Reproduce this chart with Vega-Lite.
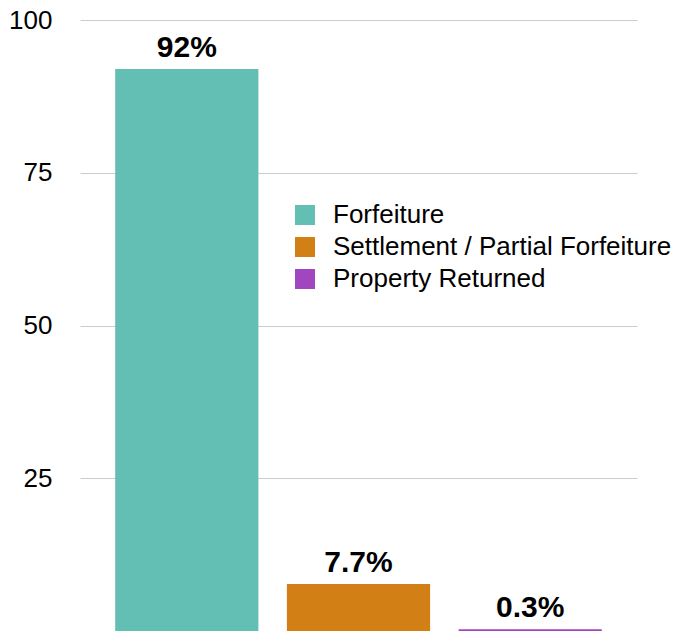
{
  "$schema": "https://vega.github.io/schema/vega-lite/v6.json",
  "autosize": "none",
  "width": 557,
  "height": 611,
  "padding": {"left": 80, "top": 20, "right": 41, "bottom": 0},
  "background": "white",
  "config": {
    "font": "Liberation Sans",
    "view": {"stroke": null}
  },
  "data": {
    "values": [
      {"category": "Forfeiture", "value": 92, "label": "92%"},
      {"category": "Settlement / Partial Forfeiture", "value": 7.7, "label": "7.7%"},
      {"category": "Property Returned", "value": 0.3, "label": "0.3%"}
    ]
  },
  "encoding": {
    "x": {
      "field": "category",
      "type": "nominal",
      "sort": null,
      "scale": {"paddingInner": 0.166, "paddingOuter": 0.205},
      "axis": null
    },
    "y": {
      "field": "value",
      "type": "quantitative",
      "scale": {"domain": [0, 100], "nice": false},
      "axis": {
        "title": null,
        "values": [25, 50, 75, 100],
        "domain": false,
        "ticks": false,
        "labelPadding": 28,
        "labelFontSize": 26,
        "labelColor": "#000000",
        "labelFont": "Liberation Sans",
        "gridColor": "#cccccc",
        "gridWidth": 1
      }
    }
  },
  "layer": [
    {
      "mark": {"type": "bar"},
      "encoding": {
        "color": {
          "field": "category",
          "type": "nominal",
          "sort": null,
          "scale": {
            "domain": ["Forfeiture", "Settlement / Partial Forfeiture", "Property Returned"],
            "range": ["#63BFB4", "#D27F16", "#A046BE"]
          },
          "legend": {
            "title": null,
            "orient": "none",
            "legendX": 212,
            "legendY": 182,
            "symbolType": "square",
            "symbolSize": 400,
            "symbolStrokeWidth": 0,
            "symbolOpacity": 1,
            "labelFontSize": 26,
            "labelColor": "#000000",
            "labelOffset": 15,
            "rowPadding": 6,
            "labelLimit": 500
          }
        }
      }
    },
    {
      "mark": {
        "type": "text",
        "fontSize": 30,
        "fontWeight": "bold",
        "baseline": "alphabetic",
        "dy": -12,
        "color": "#000000"
      },
      "encoding": {
        "text": {"field": "label"}
      }
    }
  ]
}
